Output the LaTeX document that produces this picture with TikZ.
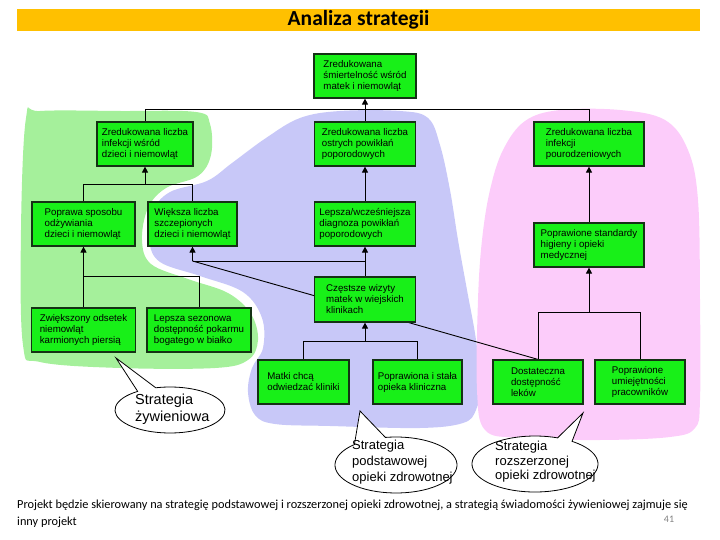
\documentclass[tikz,border=0pt]{standalone}
\usepackage{fontspec}
\setmainfont{Carlito}
\newfontfamily\arialf{Liberation Sans}
\usetikzlibrary{arrows.meta,calc}
\pgfdeclarelayer{blobs}
\pgfdeclarelayer{lines}
\pgfsetlayers{blobs,lines,main}
\definecolor{titlebar}{RGB}{255,192,0}
\definecolor{boxgreen}{RGB}{24,240,24}
\definecolor{boxline}{RGB}{20,50,20}
\definecolor{bggreen}{RGB}{165,240,155}
\definecolor{bgblue}{RGB}{200,200,248}
\definecolor{bgpink}{RGB}{252,204,250}
\begin{document}
\begin{tikzpicture}[x=1pt,y=-1pt,
 box/.style={draw=boxline, line width=1.2pt, fill=boxgreen, inner sep=0pt, align=left,
   font=\arialf\fontsize{9.7}{11}\selectfont},
 conn/.style={line width=0.9pt, draw=black},
 arr/.style={conn, -{Triangle[width=6pt,length=6pt]}},
 bubble/.style={draw=black, line width=0.8pt, fill=white},
 btext/.style={align=left, inner sep=0pt, anchor=west}]
\useasboundingbox (0,0) rectangle (720,540);

% title
\node[fill=titlebar, minimum width=683pt, minimum height=22pt, inner sep=0pt,
  font=\bfseries\fontsize{21.5}{22}\selectfont] (title) at (358.5,20) {Analiza strategii};

% boxes
\node[box, minimum width=102pt, minimum height=44pt] (b1) at (365,76) {Zredukowana\\śmiertelność wśród\\matek i niemowląt};
\node[box, minimum width=96pt, minimum height=44pt] (b2) at (145,144) {Zredukowana liczba\\infekcji wśród\\dzieci i niemowląt};
\node[box, minimum width=101pt, minimum height=44pt] (b3) at (365,144) {Zredukowana liczba\\ostrych powikłań\\poporodowych};
\node[box, minimum width=110pt, minimum height=44pt] (b4) at (589,144) {Zredukowana liczba\\infekcji\\pourodzeniowych};
\node[box, minimum width=103pt, minimum height=44pt] (b5) at (83.5,224) {Poprawa sposobu\\odżywiania\\dzieci i niemowląt};
\node[box, minimum width=89pt, minimum height=44pt] (b6) at (192.5,224) {Większa liczba\\szczepionych\\dzieci i niemowląt};
\node[box, minimum width=101pt, minimum height=44pt] (b7) at (365,224) {Lepsza/wcześniejsza\\diagnoza powikłań\\poporodowych};
\node[box, minimum width=110pt, minimum height=44pt] (b8) at (589,245) {Poprawione standardy\\higieny i opieki\\medycznej};
\node[box, minimum width=104pt, minimum height=44pt] (b9) at (83.5,330) {Zwiększony odsetek\\niemowląt\\karmionych piersią};
\node[box, minimum width=104pt, minimum height=44pt] (b10) at (199,330) {Lepsza sezonowa\\dostępność pokarmu\\bogatego w białko};
\node[box, minimum width=101pt, minimum height=45pt] (b11) at (365,299.5) {Częstsze wizyty\\matek w wiejskich\\klinikach};
\node[box, minimum width=90pt, minimum height=44pt] (b12) at (538,382) {Dostateczna\\dostępność\\leków};
\node[box, minimum width=90pt, minimum height=44pt] (b13) at (640,382) {Poprawione\\umiejętności\\pracowników};
\node[box, minimum width=91pt, minimum height=44pt] (b14) at (303.5,382) {Matki chcą\\odwiedzać kliniki};
\node[box, minimum width=89pt, minimum height=44pt] (b15) at (417.5,382) {Poprawiona i stała\\opieka kliniczna};

% background blobs
\begin{pgfonlayer}{blobs}
\fill[bggreen] plot[smooth cycle, tension=0.6] coordinates {
 (26,118) (40,111) (120,111) (196,112) (210,124) (211,155) (198,176) (166,188)
 (148,208) (142,240) (151,264) (188,279) (228,293) (251,314) (258,340) (248,360)
 (215,368) (120,368) (40,362) (23,345) (21,230)};
\fill[bgblue] plot[smooth cycle, tension=0.6] coordinates {
 (207,181) (232,163) (266,138) (300,118) (340,111) (400,111) (428,118) (440,145)
 (450,190) (458,240) (467,290) (476,340) (480,385) (476,410) (463,423) (420,428)
 (330,426) (275,424) (255,415) (248,392) (252,368) (263,348) (262,318) (243,292)
 (200,276) (160,262) (149,240) (152,212) (170,192)};
\fill[bgpink] plot[smooth cycle, tension=0.6] coordinates {
 (478,300) (482,240) (490,190) (503,150) (525,121) (560,110) (620,110) (665,120)
 (688,150) (698,200) (700,300) (700,400) (695,428) (670,437) (600,440) (520,438)
 (485,430) (477,390)};
\end{pgfonlayer}

% connectors
\begin{pgfonlayer}{lines}
\coordinate (t1) at (365,109);
\draw[conn] (b2.north) -- (b2.north |- t1) -- (b4.north |- t1) -- (b4.north);
\draw[conn] (b3.north) -- (t1);
\draw[arr] (t1) -- (b1.south);
\coordinate (t2) at (145,184);
\draw[conn] (b5.north) -- (b5.north |- t2) -- (b6.north |- t2) -- (b6.north);
\draw[arr] (t2) -- (b2.south);
\draw[arr] (b7.north) -- (b3.south);
\draw[arr] (b8.north) -- (b4.south);
\coordinate (t3) at (83.5,276);
\draw[arr] (b9.north) -- (b5.south);
\draw[conn] (t3) -- (b10.north |- t3) -- (b10.north);
\coordinate (t4) at (192.5,261);
\draw[arr] (t4) -- (b6.south);
\draw[conn] (t4) -- (b7.south |- t4);
\draw[arr] (b11.north) -- (b7.south);
\draw[conn] (t4) -- (b12.north);
\coordinate (t5) at (365,341);
\draw[arr] (t5) -- (b11.south);
\draw[conn] (b14.north) -- (b14.north |- t5) -- (b15.north |- t5) -- (b15.north);
\coordinate (t6) at (589,312);
\draw[arr] (t6) -- (b8.south);
\draw[conn] (b12.north) -- (b12.north |- t6) -- (b13.north |- t6) -- (b13.north);
\end{pgfonlayer}

% speech bubbles
\draw[bubble] ($(170,410)+(255:55 and 23)$) -- (116,358) -- ($(170,410)+(234:55 and 23)$)
  arc[start angle=234, end angle=-105, x radius=55, y radius=23] -- cycle;
\node[btext, font=\arialf\fontsize{14.5}{17}\selectfont] (s1) at (135,409) {Strategia\\żywieniowa};

\draw[bubble] ($(396,465)+(260:61 and 28)$) -- (360,411) -- ($(396,465)+(227:61 and 28)$)
  arc[start angle=227, end angle=-100, x radius=61, y radius=28] -- cycle;
\node[btext, font=\arialf\fontsize{13}{16}\selectfont] (s2) at (352,462) {Strategia\\podstawowej\\opieki zdrowotnej};

\draw[bubble] ($(535,464)+(291:63 and 28)$) -- (583,413) -- ($(535,464)+(306:63 and 28)$)
  arc[start angle=306, end angle=651, x radius=63, y radius=28] -- cycle;
\node[btext, font=\arialf\fontsize{13}{14.5}\selectfont] (s3) at (495,462) {Strategia\\rozszerzonej\\opieki zdrowotnej};

% footer
\node[anchor=base west, inner sep=0pt, font=\fontsize{12.3}{16}\selectfont] (f1) at (17,508)
 {Projekt będzie skierowany na strategię podstawowej i rozszerzonej opieki zdrowotnej, a strategią świadomości żywieniowej zajmuje się};
\node[anchor=base west, inner sep=0pt, font=\fontsize{12.3}{16}\selectfont] (f2) at (17,525) {inny projekt};
\node[text=gray, inner sep=0pt, font=\fontsize{10}{11}\selectfont] (pg) at (669,519) {41};
\end{tikzpicture}
\end{document}
